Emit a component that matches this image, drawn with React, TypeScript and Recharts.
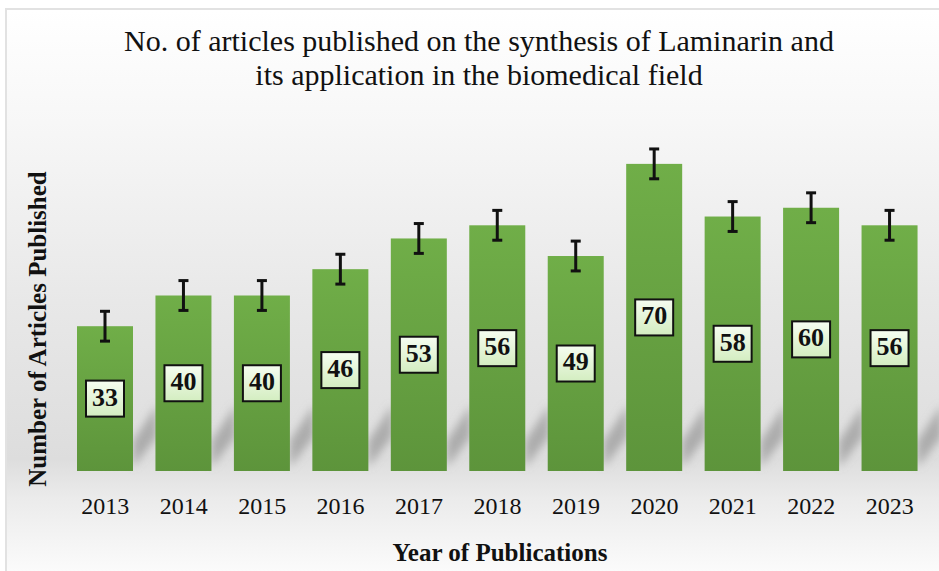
import React from 'react';
import { BarChart, Bar, XAxis, YAxis, ErrorBar, LabelList } from 'recharts';

const years = ['2013', '2014', '2015', '2016', '2017', '2018', '2019', '2020', '2021', '2022', '2023'];
const articles = [33, 40, 40, 46, 53, 56, 49, 70, 58, 60, 56];
const errors = [3.4, 3.4, 3.4, 3.4, 3.4, 3.4, 3.4, 3.4, 3.4, 3.4, 3.4];

const data = years.map((year, i) => ({ year, count: articles[i], err: errors[i] }));

const FONT = '"Liberation Serif", "Times New Roman", serif';

// bar with a soft diagonal shadow cast to its right
function ShadowBar(props: any) {
  const { x, y, width, height } = props;
  const bottom = y + height;
  const r = x + width;
  return (
    <g>
      <polygon
        points={`${r},${bottom - 30} ${r + 24},${bottom - 66} ${r + 24},${bottom - 34} ${r},${bottom - 4}`}
        fill="#909090"
        fillOpacity={0.65}
        filter="url(#shadowBlur)"
      />
      <rect x={x} y={y} width={width} height={height} fill="url(#barGrad)" />
    </g>
  );
}

function ValueBox(props: any) {
  const { x, y, width, height, value } = props;
  const cx = x + width / 2;
  const cy = y + height / 2;
  return (
    <g>
      <rect x={cx - 19} y={cy - 18} width={38} height={36} fill="url(#boxGrad)" stroke="#111" strokeWidth={2} />
      <text
        x={cx}
        y={cy + 1}
        textAnchor="middle"
        dominantBaseline="middle"
        fontFamily={FONT}
        fontWeight="bold"
        fontSize={26}
        fill="#111"
      >
        {value}
      </text>
    </g>
  );
}

export default function App() {
  return (
    <div style={{ position: 'absolute', left: 0, top: 0, width: 939, height: 571, background: '#fff' }}>
      <div
        style={{
          position: 'absolute',
          left: 5,
          top: 8,
          width: 934,
          height: 563,
          borderLeft: '2px solid #e2e2e2',
          borderTop: '2px solid #e2e2e2',
          boxSizing: 'border-box',
          background:
            'linear-gradient(to bottom, #ffffff 0%, #f7f7f7 20%, #e8e8e8 52%, #dddddd 80%, #ebebeb 87%, #fbfbfb 100%)',
        }}
      />
      <div
        style={{
          position: 'absolute',
          left: 0,
          top: 24,
          width: 958,
          textAlign: 'center',
          fontFamily: FONT,
          fontSize: 30,
          lineHeight: '34px',
          color: '#111',
        }}
      >
        No. of articles published on the synthesis of Laminarin and
        <br />
        its application in the biomedical field
      </div>
      <div
        style={{
          position: 'absolute',
          left: 38,
          top: 329,
          transform: 'translate(-50%, -50%) rotate(-90deg)',
          whiteSpace: 'nowrap',
          fontFamily: FONT,
          fontWeight: 'bold',
          fontSize: 25,
          color: '#111',
        }}
      >
        Number of Articles Published
      </div>
      <div
        style={{
          position: 'absolute',
          left: 0,
          top: 539,
          width: 1000,
          textAlign: 'center',
          fontFamily: FONT,
          fontWeight: 'bold',
          fontSize: 25,
          color: '#111',
        }}
      >
        Year of Publications
      </div>
      <div style={{ position: 'absolute', left: 0, top: 0 }}>
        <BarChart width={939} height={571} data={data} margin={{ top: 120, right: 10, left: 66, bottom: 70 }}>
          <defs>
            <linearGradient id="barGrad" x1="0" y1="0" x2="0" y2="1">
              <stop offset="0%" stopColor="#70ae48" />
              <stop offset="100%" stopColor="#5d943b" />
            </linearGradient>
            <linearGradient id="boxGrad" x1="0" y1="0" x2="0" y2="1">
              <stop offset="0%" stopColor="#f6fdf1" />
              <stop offset="100%" stopColor="#d3edc0" />
            </linearGradient>
            <filter id="shadowBlur" x="-50%" y="-50%" width="200%" height="200%">
              <feGaussianBlur stdDeviation="4" />
            </filter>
          </defs>
          <XAxis
            dataKey="year"
            axisLine={false}
            tickLine={false}
            height={30}
            tickMargin={20}
            tick={{ fill: '#111', fontSize: 24, fontFamily: FONT }}
            interval={0}
          />
          <YAxis hide domain={[0, 80]} />
          <Bar dataKey="count" barSize={56} shape={<ShadowBar />} isAnimationActive={false}>
            <ErrorBar dataKey="err" width={5} strokeWidth={3} stroke="#111" isAnimationActive={false} />
            <LabelList dataKey="count" content={<ValueBox />} />
          </Bar>
        </BarChart>
      </div>
    </div>
  );
}
